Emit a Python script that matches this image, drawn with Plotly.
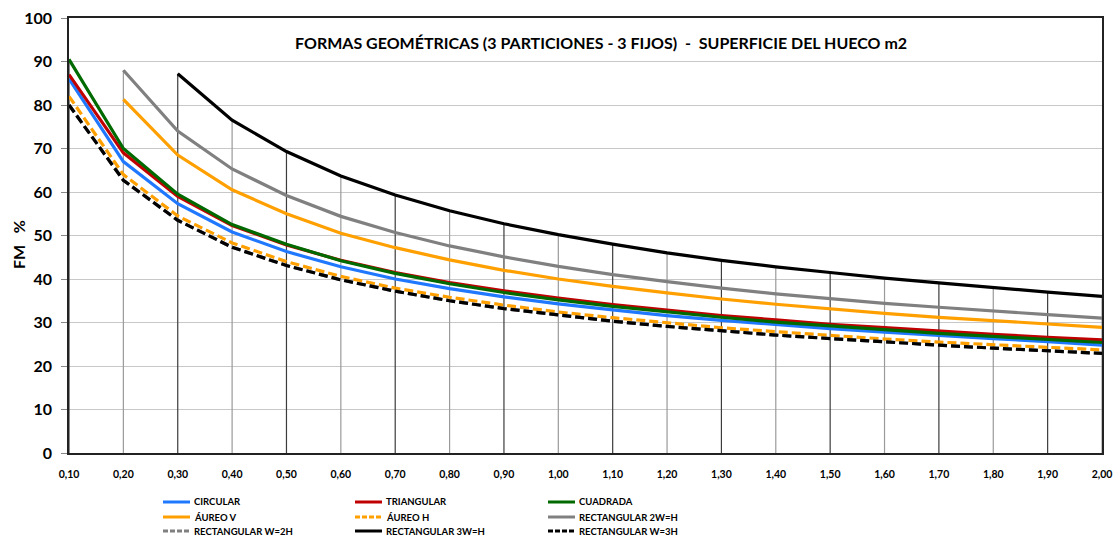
import plotly.graph_objects as go

# ---- data ----
x_vals = [0.10, 0.20, 0.30, 0.40, 0.50, 0.60, 0.70, 0.80, 0.90, 1.00,
          1.10, 1.20, 1.30, 1.40, 1.50, 1.60, 1.70, 1.80, 1.90, 2.00]
x_labels = ["0,10", "0,20", "0,30", "0,40", "0,50", "0,60", "0,70", "0,80", "0,90", "1,00",
            "1,10", "1,20", "1,30", "1,40", "1,50", "1,60", "1,70", "1,80", "1,90", "2,00"]

circular = [86.0, 67.0, 57.3, 50.8, 46.3, 42.8, 40.0, 37.8, 35.9, 34.3,
            32.9, 31.6, 30.5, 29.5, 28.6, 27.8, 27.0, 26.3, 25.6, 24.8]
triangular = [87.0, 69.0, 59.0, 52.3, 47.8, 44.3, 41.5, 39.2, 37.3, 35.6,
              34.1, 32.8, 31.6, 30.6, 29.6, 28.8, 28.0, 27.3, 26.6, 26.0]
cuadrada = [90.5, 70.0, 59.5, 52.5, 48.0, 44.2, 41.3, 38.9, 36.9, 35.2,
            33.7, 32.4, 31.2, 30.1, 29.2, 28.3, 27.5, 26.8, 26.1, 25.4]
aureo_v = [None, 81.3, 68.5, 60.5, 55.0, 50.5, 47.2, 44.4, 42.0, 40.0,
           38.3, 36.8, 35.4, 34.2, 33.1, 32.1, 31.2, 30.4, 29.6, 28.9]
aureo_h = [82.0, 64.0, 54.5, 48.3, 44.0, 40.6, 37.9, 35.8, 34.0, 32.4,
           31.1, 29.9, 28.8, 27.9, 27.0, 26.2, 25.5, 24.9, 24.3, 23.7]
rect_2w_h = [None, 88.0, 74.0, 65.3, 59.2, 54.4, 50.7, 47.6, 45.1, 42.9,
             41.0, 39.4, 37.9, 36.6, 35.5, 34.4, 33.5, 32.6, 31.8, 31.0]
rect_w_2h = [80.0, 62.7, 53.5, 47.3, 43.1, 39.8, 37.2, 35.0, 33.2, 31.7,
             30.3, 29.1, 28.1, 27.1, 26.3, 25.5, 24.8, 24.1, 23.5, 22.9]
rect_3w_h = [None, None, 87.2, 76.5, 69.3, 63.7, 59.3, 55.7, 52.7, 50.2,
             48.0, 46.0, 44.3, 42.8, 41.5, 40.2, 39.1, 38.0, 37.0, 36.0]
rect_w_3h = [80.0, 62.7, 53.5, 47.3, 43.1, 39.8, 37.2, 35.0, 33.2, 31.7,
             30.3, 29.1, 28.1, 27.1, 26.3, 25.5, 24.8, 24.1, 23.5, 22.9]

series = [
    ("CIRCULAR", circular, "#1F78FF", "solid"),
    ("TRIANGULAR", triangular, "#C00000", "solid"),
    ("CUADRADA", cuadrada, "#006A00", "solid"),
    ("ÁUREO V", aureo_v, "#FFA000", "solid"),
    ("ÁUREO H", aureo_h, "#FFA000", "9px,4px"),
    ("RECTANGULAR 2W=H", rect_2w_h, "#808080", "solid"),
    ("RECTANGULAR W=2H", rect_w_2h, "#808080", "9px,4px"),
    ("RECTANGULAR 3W=H", rect_3w_h, "#000000", "solid"),
    ("RECTANGULAR W=3H", rect_w_3h, "#000000", "9px,4px"),
]

FONT = "Lato"
fig = go.Figure()

# drop lines (from axis to highest series at each category)
tops = [max(v[i] for _, v, _, _ in series if v[i] is not None) for i in range(len(x_vals))]
for parity, col in ((1, "#9a9a9a"), (0, "#3c3c3c")):
    xs, ys = [], []
    for i, xv in enumerate(x_vals):
        if i % 2 == parity:
            xs += [xv, xv, None]
            ys += [0, tops[i], None]
    fig.add_trace(go.Scatter(x=xs, y=ys, mode="lines", line=dict(color=col, width=1.2),
                             hoverinfo="skip", showlegend=False))

for name, vals, col, dash in series:
    fig.add_trace(go.Scatter(x=x_vals, y=vals, mode="lines", name=name,
                             line=dict(color=col, width=3.2, dash=dash),
                             connectgaps=False, showlegend=False))

# ---- layout ----
L, R, T, B, W, H = 69, 18, 18, 87, 1120, 540
pw, ph = W - L - R, H - T - B

def px(xp):
    return (xp - L) / pw

def py(yp):
    return (H - B - yp) / ph

annotations = [
    dict(text="FORMAS GEOMÉTRICAS (3 PARTICIONES - 3 FIJOS)  -  SUPERFICIE DEL HUECO m2".replace("  ", "\u00a0\u00a0"),
         x=px(601), y=py(42), xref="paper", yref="paper", showarrow=False,
         xanchor="center", yanchor="middle",
         font=dict(family=FONT, size=16, color="black", weight="bold")),
    dict(text="FM\u00a0\u00a0\u00a0%", x=px(18), y=py(245), xref="paper", yref="paper", showarrow=False,
         xanchor="center", yanchor="middle",
         textangle=-90, font=dict(family=FONT, size=16, color="black", weight="bold")),
]
shapes = []
col_x = [163, 355, 548]
row_y = [502, 517, 531]
for k, (name, vals, col, dash) in enumerate(series):
    r, c = divmod(k, 3)
    x0 = col_x[c]
    yy = row_y[r]
    shapes.append(dict(type="line", xref="paper", yref="paper",
                       x0=px(x0), x1=px(x0 + 27), y0=py(yy), y1=py(yy),
                       line=dict(color=col, width=3, dash="5px,2px" if dash != "solid" else "solid")))
    annotations.append(dict(text=name, x=px(x0 + 29), y=py(yy), xref="paper", yref="paper",
                            xanchor="left", yanchor="middle", showarrow=False,
                            font=dict(family=FONT, size=9.5, color="black", weight="bold")))

fig.update_layout(
    width=W, height=H,
    margin=dict(l=L, r=R, t=T, b=B, autoexpand=False),
    paper_bgcolor="white", plot_bgcolor="white",
    showlegend=False,
    annotations=annotations,
    shapes=shapes,
    xaxis=dict(range=[0.1, 2.0], tickvals=x_vals, ticktext=x_labels,
               showgrid=False, zeroline=False, automargin=False,
               showline=True, linecolor="#222", linewidth=1.5, mirror=True,
               ticks="outside", ticklen=11, tickcolor="rgba(0,0,0,0)",
               tickfont=dict(family=FONT, size=10.5, color="black", weight="bold")),
    yaxis=dict(range=[0, 100], dtick=10, showgrid=True, gridcolor="#c8c8c8", gridwidth=1,
               zeroline=False, showline=True, linecolor="#222", linewidth=1.5, mirror=True,
               ticks="outside", ticklen=6, tickcolor="#888", automargin=False,
               ticklabelstandoff=6,
               tickfont=dict(family=FONT, size=16, color="black", weight="bold")),
)

fig.write_html("out.html", config={"displayModeBar": False},
               post_script="document.body.style.margin='0';document.body.style.overflow='hidden';")
